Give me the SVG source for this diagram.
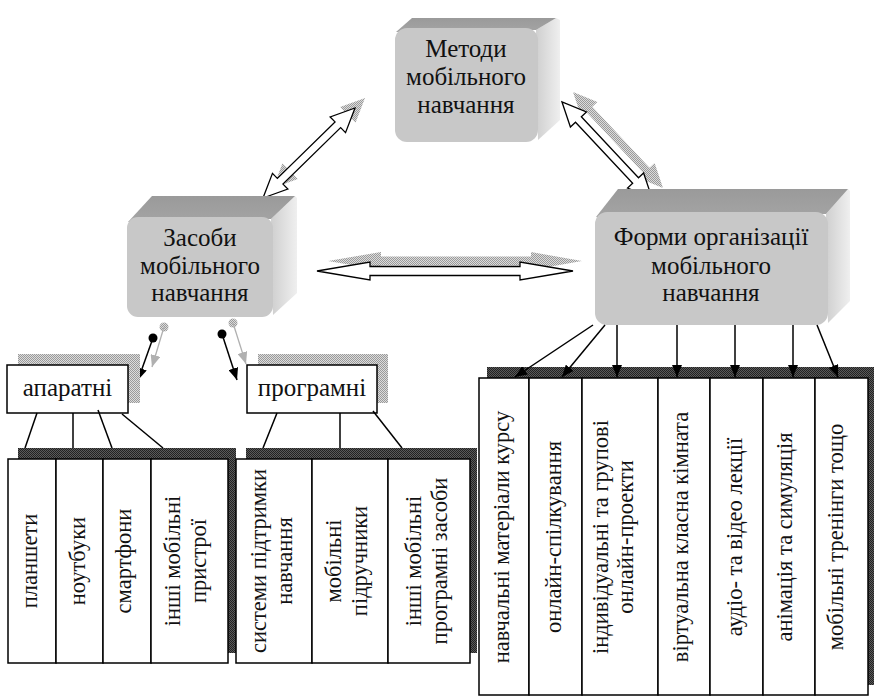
<svg xmlns="http://www.w3.org/2000/svg" width="874" height="698" viewBox="0 0 874 698" font-family="Liberation Serif, Times New Roman, serif">
<defs>
<pattern id="lt" width="2" height="2" patternUnits="userSpaceOnUse"><rect width="2" height="2" fill="#dcdcdc"/><rect width="1" height="1" fill="#9a9a9a"/><rect x="1" y="1" width="1" height="1" fill="#9a9a9a"/></pattern>
<pattern id="dk" width="2" height="2" patternUnits="userSpaceOnUse"><rect width="2" height="2" fill="#5a5a5a"/><rect width="1" height="1" fill="#222"/><rect x="1" y="1" width="1" height="1" fill="#222"/></pattern>
<linearGradient id="topg" x1="0" y1="1" x2="0" y2="0"><stop offset="0" stop-color="#a4a4a4"/><stop offset="1" stop-color="#9a9a9a"/></linearGradient>
<linearGradient id="sideg" x1="0" y1="0" x2="1" y2="0"><stop offset="0" stop-color="#cfcfcf"/><stop offset="1" stop-color="#efefef"/></linearGradient>
<marker id="ah" viewBox="0 0 12 10" refX="12" refY="5" markerWidth="12" markerHeight="10" markerUnits="userSpaceOnUse" orient="auto"><path d="M0,0 L12,5 L0,10 z" fill="#000"/></marker>
<marker id="ahg" viewBox="0 0 12 10" refX="12" refY="5" markerWidth="12" markerHeight="10" markerUnits="userSpaceOnUse" orient="auto"><path d="M0,0 L12,5 L0,10 z" fill="#b0b0b0"/></marker>
</defs>
<style>
.big{font-size:25px;text-anchor:middle;fill:#111}
.sm{font-size:22.5px;text-anchor:middle;fill:#111}
.front{fill:#c8c8c8}
.top{fill:url(#topg)}
.side{fill:url(#sideg)}
.box{fill:#fff;stroke:#000;stroke-width:1.5}
.ln{stroke:#000;stroke-width:1.5;fill:none}
.shd{fill:url(#lt)}
.dshd{fill:url(#dk)}
.blk{fill:#fff;stroke:#000;stroke-width:1.3}
</style>

<g id="connectors">
  <polygon class="shd" points="273,188 297.85,179.08 292.96,174.08 350.64,117.64 355.53,122.64 365,98 340.15,106.92 345.04,111.92 287.36,168.36 282.47,163.36"/>
  <polygon class="shd" points="573,92 581.40,117.03 586.50,112.25 643.66,173.23 638.56,178.01 663,188 654.60,162.97 649.50,167.75 592.34,106.77 597.44,101.99"/>
  <polygon class="shd" points="328,261 381,252 381,256.5 531,256.5 531,252 582,261 531,270 531,265.5 381,265.5 381,270"/>
  <polygon class="blk" points="263,198 287.85,189.08 282.96,184.08 340.64,127.64 345.53,132.64 355,108 330.15,116.92 335.04,121.92 277.36,178.36 272.47,173.36"/>
  <polygon class="blk" points="562,102 570.40,127.03 575.50,122.25 632.66,183.23 627.56,188.01 652,198 643.60,172.97 638.50,177.75 581.34,116.77 586.44,111.99"/>
  <polygon class="blk" points="317,271 370,262 370,266.5 520,266.5 520,262 573,271 520,280 520,275.5 370,275.5 370,280"/>
</g>

<g id="node-metody">
  <polygon class="side" points="536,30 556,18 560,20 560,120 538,140"/>
  <polygon class="top" points="396,32 412,18 556,18 536,30"/>
  <rect class="front" x="395" y="28" width="143" height="114" rx="12"/>
  <text class="big" x="466" y="57">Методи</text>
  <text class="big" x="466" y="85">мобільного</text>
  <text class="big" x="466" y="113">навчання</text>
</g>

<g id="node-zasoby">
  <polygon class="side" points="271,219 295,196 297,198 297,293 273,315"/>
  <polygon class="top" points="128,222 152,196 295,196 271,219"/>
  <rect class="front" x="127" y="217" width="146" height="100" rx="11"/>
  <text class="big" x="200" y="246">Засоби</text>
  <text class="big" x="200" y="274">мобільного</text>
  <text class="big" x="200" y="301">навчання</text>
</g>

<g id="node-formy">
  <polygon class="side" points="826,214 848,189 850,191 850,301 828,323"/>
  <polygon class="top" points="596,217 618,189 848,189 826,214"/>
  <rect class="front" x="595" y="212" width="233" height="113" rx="12"/>
  <text class="big" x="711" y="245">Форми організації</text>
  <text class="big" x="711" y="274">мобільного</text>
  <text class="big" x="711" y="301">навчання</text>
</g>

<g id="connectors-lower">
  <circle cx="164" cy="327" r="4.5" class="shd"/>
  <circle cx="233" cy="323" r="4.5" class="shd"/>
  <line x1="164" y1="327" x2="152" y2="367" stroke="#b0b0b0" stroke-width="1.3" marker-end="url(#ahg)"/>
  <line x1="233" y1="323" x2="246" y2="364" stroke="#b0b0b0" stroke-width="1.3" marker-end="url(#ahg)"/>
  <circle cx="153" cy="338" r="4.5" fill="#000"/>
  <circle cx="222" cy="334" r="4.5" fill="#000"/>
  <line class="ln" x1="153" y1="338" x2="138" y2="380" marker-end="url(#ah)"/>
  <line class="ln" x1="222" y1="334" x2="237" y2="380" marker-end="url(#ah)"/>
</g>

<g id="node-aparatni">
  <rect class="shd" x="18" y="354" width="122" height="49"/>
  <rect class="box" x="7" y="365" width="121" height="48"/>
  <text class="big" x="67.5" y="396">апаратні</text>
</g>

<g id="node-prohramni">
  <rect class="shd" x="258" y="354" width="130" height="49"/>
  <rect class="box" x="247" y="365" width="130" height="48"/>
  <text class="big" x="312" y="396">програмні</text>
</g>

<g id="group-hardware">
  <rect class="dshd" x="18" y="448" width="218" height="205"/>
  <rect class="box" x="8" y="459" width="48" height="204"/>
  <rect class="box" x="56" y="459" width="47" height="204"/>
  <rect class="box" x="103" y="459" width="48" height="204"/>
  <rect class="box" x="151" y="459" width="77" height="204"/>
  <text class="sm" transform="translate(37,561) rotate(-90)">планшети</text>
  <text class="sm" transform="translate(85,561) rotate(-90)">ноутбуки</text>
  <text class="sm" transform="translate(131,561) rotate(-90)">смартфони</text>
  <text class="sm" transform="translate(180,561) rotate(-90)">інші мобільні</text>
  <text class="sm" transform="translate(206,561) rotate(-90)">пристрої</text>
</g>

<g id="group-software">
  <rect class="dshd" x="246" y="448" width="231" height="205"/>
  <rect class="box" x="236" y="459" width="76" height="204"/>
  <rect class="box" x="312" y="459" width="76" height="204"/>
  <rect class="box" x="388" y="459" width="82" height="204"/>
  <text class="sm" transform="translate(266,561) rotate(-90)">системи підтримки</text>
  <text class="sm" transform="translate(292,561) rotate(-90)">навчання</text>
  <text class="sm" transform="translate(341,561) rotate(-90)">мобільні</text>
  <text class="sm" transform="translate(367,561) rotate(-90)">підручники</text>
  <text class="sm" transform="translate(421,561) rotate(-90)">інші мобільні</text>
  <text class="sm" transform="translate(447,561) rotate(-90)">програмні засоби</text>
</g>

<g id="group-forms">
  <rect class="dshd" x="487" y="367" width="387" height="318"/>
  <rect class="box" x="479" y="378" width="50" height="317"/>
  <rect class="box" x="529" y="378" width="53" height="317"/>
  <rect class="box" x="582" y="378" width="76" height="317"/>
  <rect class="box" x="658" y="378" width="52" height="317"/>
  <rect class="box" x="710" y="378" width="53" height="317"/>
  <rect class="box" x="763" y="378" width="52" height="317"/>
  <rect class="box" x="815" y="378" width="53" height="317"/>
  <text class="sm" transform="translate(509,537) rotate(-90)">навчальні матеріали курсу</text>
  <text class="sm" transform="translate(561,537) rotate(-90)">онлайн-спілкування</text>
  <text class="sm" transform="translate(608,537) rotate(-90)">індивідуальні та групові</text>
  <text class="sm" transform="translate(633,537) rotate(-90)">онлайн-проекти</text>
  <text class="sm" transform="translate(688,537) rotate(-90)">віртуальна класна кімната</text>
  <text class="sm" transform="translate(742,537) rotate(-90)">аудіо- та відео лекції</text>
  <text class="sm" transform="translate(792,537) rotate(-90)">анімація та симуляція</text>
  <text class="sm" transform="translate(843,537) rotate(-90)">мобільні тренінги тощо</text>
</g>

<g id="connectors-tree">
  <line class="ln" x1="37" y1="413" x2="25" y2="448"/>
  <line class="ln" x1="73" y1="413" x2="73" y2="448"/>
  <line class="ln" x1="98" y1="410" x2="112" y2="448"/>
  <line class="ln" x1="122" y1="414" x2="163" y2="448"/>
  <line class="ln" x1="277" y1="413" x2="263" y2="448"/>
  <line class="ln" x1="340" y1="413" x2="340" y2="448"/>
  <line class="ln" x1="373" y1="411" x2="402" y2="448"/>
  <line class="ln" x1="593" y1="325" x2="515" y2="377" marker-end="url(#ah)"/>
  <line class="ln" x1="605" y1="325" x2="562" y2="377" marker-end="url(#ah)"/>
  <line class="ln" x1="617" y1="325" x2="617" y2="377" marker-end="url(#ah)"/>
  <line class="ln" x1="677" y1="325" x2="677" y2="377" marker-end="url(#ah)"/>
  <line class="ln" x1="735" y1="325" x2="735" y2="377" marker-end="url(#ah)"/>
  <line class="ln" x1="793" y1="325" x2="793" y2="377" marker-end="url(#ah)"/>
  <line class="ln" x1="817" y1="325" x2="838" y2="377" marker-end="url(#ah)"/>
</g>
</svg>
